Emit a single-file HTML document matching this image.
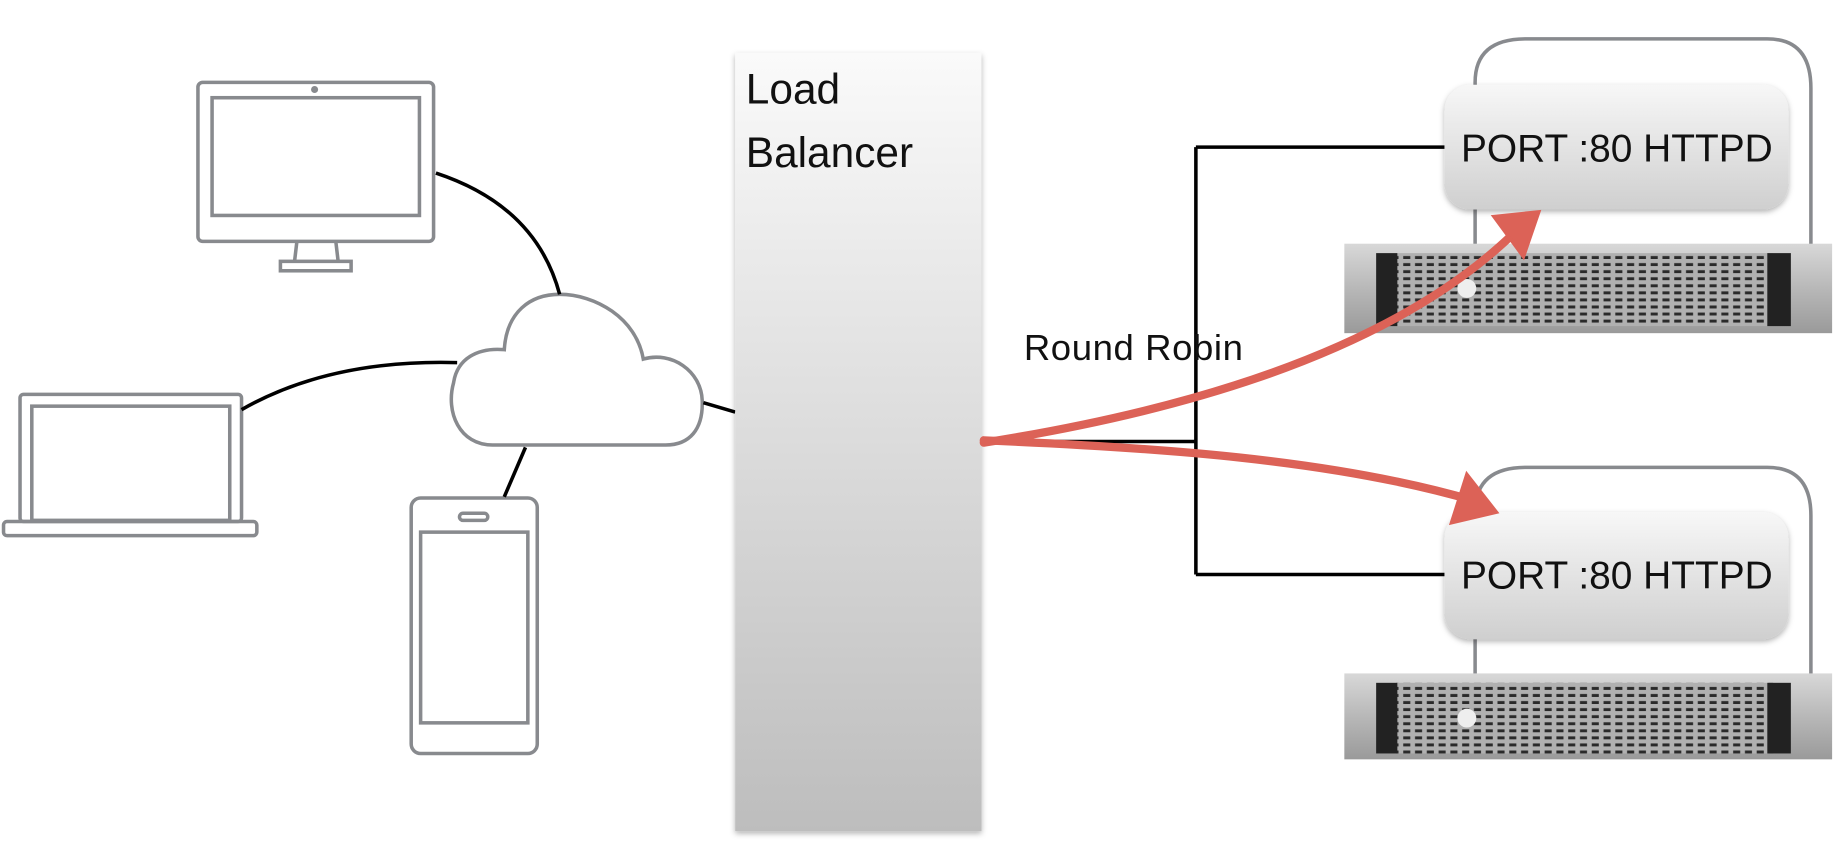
<!DOCTYPE html>
<html><head><style>
html,body{margin:0;padding:0;background:#fff;}
svg{display:block;}
text{font-family:"Liberation Sans","DejaVu Sans",sans-serif;}
</style></head><body>
<svg width="1838" height="850" viewBox="0 0 1560 722" preserveAspectRatio="none" xmlns="http://www.w3.org/2000/svg">
<defs>
<linearGradient id="lb" x1="0" y1="0" x2="0" y2="1"><stop offset="0" stop-color="#fafafa"/><stop offset="1" stop-color="#bdbdbd"/></linearGradient>
<linearGradient id="pb" x1="0" y1="0" x2="0" y2="1"><stop offset="0" stop-color="#f7f7f7"/><stop offset="1" stop-color="#cfcfcf"/></linearGradient>
<linearGradient id="sv" x1="0" y1="0" x2="0" y2="1"><stop offset="0" stop-color="#d8d8d8"/><stop offset="0.5" stop-color="#b8b8b8"/><stop offset="1" stop-color="#9a9a9a"/></linearGradient>
<pattern id="vent" width="10" height="6" patternUnits="userSpaceOnUse"><rect width="10" height="6" fill="#b0b0b0"/><rect x="1" y="1.5" width="6" height="2.5" fill="#2a2a2a"/></pattern>
<filter id="sh" x="-10%" y="-10%" width="130%" height="130%"><feDropShadow dx="0" dy="2" stdDeviation="2.5" flood-color="#000" flood-opacity="0.3"/></filter>
</defs>
<g fill="none" stroke="#888a8e" stroke-width="3">
<rect x="168" y="70" width="200" height="135" rx="4"/>
<rect x="180" y="83" width="176" height="100"/>
<path d="M252 205 L250 222 M285 205 L287 222"/>
<rect x="238" y="222" width="60" height="8"/>
<rect x="17" y="335" width="188" height="108" rx="3"/>
<rect x="27" y="345" width="168" height="97"/>
<rect x="3" y="443" width="215" height="12" rx="3"/>
<rect x="349" y="423" width="107" height="217" rx="8"/>
<rect x="357" y="452" width="91" height="162"/>
<rect x="390" y="436" width="24" height="6" rx="3"/>
<path d="M418 378 C390 378 378 350 385 325 C388 305 405 295 428 297 C430 265 450 250 475 250 C505 250 540 270 546 305 C570 298 595 315 596 340 C597 365 585 378 565 378 Z" fill="#fff"/>
<path d="M1252 210 L1252 70 Q1252 33 1295 33 L1500 33 Q1537 33 1537 75 L1537 210"/>
<path d="M1252 575 L1252 435 Q1252 397 1295 397 L1500 397 Q1537 397 1537 438 L1537 575"/>
</g>
<g fill="none" stroke="#000" stroke-width="3">
<path d="M370 147 Q455 175 475 250"/>
<path d="M205 348 Q280 305 388 308"/>
<path d="M428 422 L446 380"/>
<path d="M597 342 L624 350"/>
<path d="M833 375 L1015 375 M1015 125 L1015 488 M1015 125 L1228 125 M1015 488 L1228 488"/>
</g>
<circle cx="267" cy="76" r="3" fill="#888a8e"/>
<rect x="624" y="45" width="209" height="661" fill="url(#lb)" filter="url(#sh)"/>
<text x="633" y="88" font-size="36" fill="#111">Load</text>
<text x="633" y="142" font-size="36" fill="#111">Balancer</text>
<text x="869" y="306" font-size="31" letter-spacing="0.5" fill="#111">Round Robin</text>
<g>
<rect x="1141" y="207" width="414" height="76" fill="url(#sv)"/>
<rect x="1185" y="215" width="320" height="62" fill="url(#vent)"/>
<rect x="1168" y="215" width="18" height="62" fill="#222"/>
<rect x="1500" y="215" width="20" height="62" fill="#222"/>
<circle cx="1245" cy="245" r="8" fill="#eee"/>
</g>
<g>
<rect x="1141" y="572" width="414" height="73" fill="url(#sv)"/>
<rect x="1185" y="580" width="320" height="60" fill="url(#vent)"/>
<rect x="1168" y="580" width="18" height="60" fill="#222"/>
<rect x="1500" y="580" width="20" height="60" fill="#222"/>
<circle cx="1245" cy="610" r="8" fill="#eee"/>
</g>
<rect x="1226" y="72" width="292" height="106" rx="22" fill="url(#pb)" filter="url(#sh)"/>
<text x="1240" y="137" font-size="33" fill="#111">PORT :80 HTTPD</text>
<rect x="1226" y="435" width="292" height="108" rx="22" fill="url(#pb)" filter="url(#sh)"/>
<text x="1240" y="500" font-size="33" fill="#111">PORT :80 HTTPD</text>
<g stroke="#dc6257" stroke-width="7" fill="none" stroke-linecap="round">
<path d="M835 376 C1000 350 1180 300 1285 198"/>
<path d="M835 374 C980 380 1130 390 1250 425"/>
</g>
<path d="M1268 184 L1306 180 L1293 218 Z" fill="#dc6257" stroke="#dc6257" stroke-width="3"/>
<path d="M1245 403 L1270 435 L1232 444 Z" fill="#dc6257" stroke="#dc6257" stroke-width="3"/>
</svg>
</body></html>
